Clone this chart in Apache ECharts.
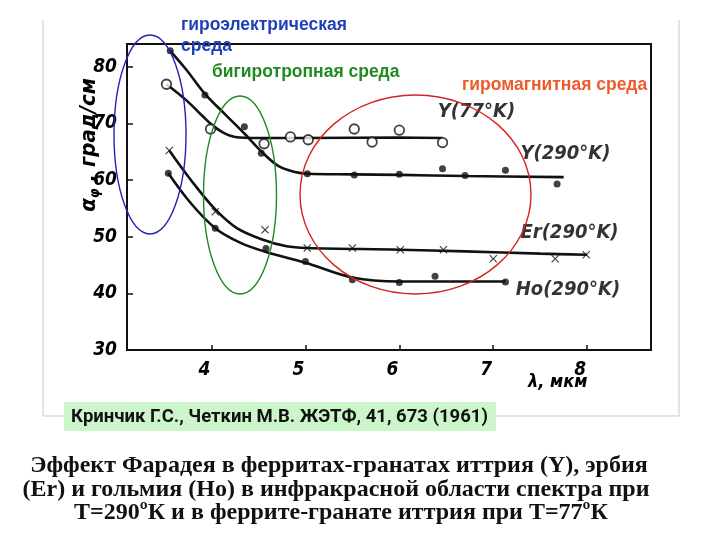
<!DOCTYPE html>
<html>
<head>
<meta charset="utf-8">
<script src="https://cdn.jsdelivr.net/npm/echarts@6/dist/echarts.min.js"></script>
<style>
html,body{margin:0;padding:0;background:#fff;}
#c{width:720px;height:540px;}
</style>
</head>
<body>
<div id="c"></div>
<script>
// ---- data ----
const xTickLabels = ['4', '5', '6', '7', '8'];
const yTickLabels = ['30', '40', '50', '60', '70', '80'];

const y290Points = [[3.56,82.8],[3.93,75.0],[4.35,69.4],[4.53,64.7],[5.02,61.1],[5.52,60.9],[6.0,61.0],[6.46,62.0],[6.70,60.8],[7.13,61.7],[7.68,59.3]];
const y290Curve  = [[3.56,82.8],[3.73,79.5],[3.93,75.2],[4.15,71.5],[4.35,68.2],[4.54,64.9],[4.71,62.5],[4.89,61.4],[5.02,61.1],[5.5,61.0],[6.0,60.9],[6.7,60.7],[7.75,60.5]];

const y77Points = [[3.52,76.9],[3.99,69.0],[4.56,66.4],[4.84,67.6],[5.03,67.1],[5.52,69.0],[5.71,66.7],[6.0,68.8],[6.46,66.6]];
const y77Curve  = [[3.52,76.9],[3.73,74.1],[3.91,71.2],[4.0,69.8],[4.12,68.4],[4.25,67.6],[4.5,67.4],[5.0,67.4],[6.0,67.5],[6.46,67.4]];

const erPoints = [[3.55,65.2],[4.04,54.4],[4.57,51.2],[5.02,48.0],[5.50,48.0],[6.01,47.7],[6.47,47.7],[7.0,46.1],[7.66,46.1],[7.99,46.8]];
const erCurve  = [[3.55,65.2],[3.78,60.0],[4.04,54.8],[4.27,51.5],[4.54,49.5],[4.80,48.3],[5.02,48.0],[6.0,47.7],[6.7,47.4],[7.5,47.0],[8.0,46.8]];

const hoPoints = [[3.54,61.2],[4.04,51.5],[4.58,47.9],[5.0,45.6],[5.5,42.4],[6.0,41.9],[6.38,43.0],[7.13,42.0]];
const hoCurve  = [[3.54,61.2],[3.78,55.9],[4.04,51.5],[4.31,48.9],[4.58,47.3],[5.0,45.4],[5.5,42.8],[6.0,42.1],[7.13,42.1]];

const curveLabelNames = ['Y(77°K)', 'Y(290°K)', 'Er(290°K)', 'Ho(290°K)'];
const curveLabelPos = [[6.41,72.1],[7.29,64.7],[7.29,50.6],[7.24,40.6]];

const mediumNames = ['гироэлектрическая\nсреда', 'бигиротропная среда', 'гиромагнитная среда'];
const citation = 'Кринчик Г.С., Четкин М.В. ЖЭТФ, 41, 673 (1961)';
const captionLines = [
  'Эффект Фарадея в ферритах-гранатах иттрия (Y), эрбия',
  '(Er) и гольмия (Ho) в инфракрасной области спектра при',
  'T=290ºК и в феррите-гранате иттрия при T=77ºК'
];

// ---- chart ----
const chart = echarts.init(document.getElementById('c'), null, {renderer: 'canvas'});
const handFont = '"DejaVu Sans Condensed", "DejaVu Sans", sans-serif';
const crossPath = 'path://M1,0 L5,4 L9,0 L10,1 L6,5 L10,9 L9,10 L5,6 L1,10 L0,9 L4,5 L0,1 Z';

function curveSeries(data) {
  return {type: 'line', data: data, smooth: 0.35, symbol: 'none',
    lineStyle: {color: '#111', width: 2.6}, z: 3, silent: true};
}

const option = {
  animation: false,
  backgroundColor: '#fff',
  grid: {left: 127, right: 69, top: 44, bottom: 190, show: true,
    borderColor: '#111', borderWidth: 2},
  xAxis: {
    type: 'value', min: 3.1, max: 8.68,
    axisLine: {lineStyle: {color: '#111', width: 2}},
    axisTick: {inside: true, length: 5, lineStyle: {color: '#111', width: 1.5}},
    splitLine: {show: false},
    axisLabel: {
      margin: 11, color: '#000', fontSize: 19, fontStyle: 'italic', fontWeight: 'bold', fontFamily: handFont,
      padding: [0, 14, 0, 0],
      showMinLabel: false, showMaxLabel: false,
      formatter: v => (Number.isInteger(v) && xTickLabels.includes(String(v))) ? String(v) : ''
    }
  },
  yAxis: {
    type: 'value', min: 30, max: 84, interval: 10,
    axisLine: {lineStyle: {color: '#111', width: 2}},
    axisTick: {inside: true, length: 6, lineStyle: {color: '#111', width: 1.5}},
    splitLine: {show: false},
    axisLabel: {
      margin: 10, color: '#000', fontSize: 19, fontStyle: 'italic', fontWeight: 'bold', fontFamily: handFont,
      showMaxLabel: false,
      formatter: v => yTickLabels.includes(String(v)) ? String(v) : ''
    }
  },
  series: [
    curveSeries(y290Curve),
    curveSeries(y77Curve),
    curveSeries(erCurve),
    curveSeries(hoCurve),
    {type: 'scatter', data: y290Points, symbol: 'circle', symbolSize: 7,
      itemStyle: {color: '#111'}, z: 4},
    {type: 'scatter', data: y77Points, symbol: 'circle', symbolSize: 9.5,
      itemStyle: {color: '#fff', borderColor: '#111', borderWidth: 1.8}, z: 4},
    {type: 'scatter', data: erPoints, symbol: crossPath, symbolSize: 8,
      itemStyle: {color: '#111'}, z: 4},
    {type: 'scatter', data: hoPoints, symbol: 'circle', symbolSize: 7,
      itemStyle: {color: '#111'}, z: 4},
    {type: 'scatter', symbolSize: 0, z: 5,
      data: curveLabelNames.map((n, i) => ({name: n, value: curveLabelPos[i]})),
      label: {show: true, position: 'right', distance: 0, formatter: '{b}',
        color: '#000', fontSize: 20, fontStyle: 'italic', fontWeight: 'bold', fontFamily: handFont}}
  ],
  graphic: [
    // light frame of the scanned picture
    {type: 'polyline', z: 1, silent: true,
      shape: {points: [[43, 20], [43, 416], [679, 416], [679, 20]]},
      style: {stroke: '#c8c8c8', lineWidth: 1, fill: null}},
    // axis names
    {type: 'text', x: 89, y: 145, rotation: Math.PI / 2, z: 10,
      style: {text: '{a|α}{s|φ}{a| , град/см}', align: 'center', verticalAlign: 'middle',
        fill: '#000',
        rich: {a: {fontSize: 22, fontStyle: 'italic', fontWeight: 'bold', fontFamily: handFont},
               s: {fontSize: 14, fontStyle: 'italic', fontWeight: 'bold', fontFamily: handFont, padding: [12, 0, 0, 0]}}}},
    {type: 'text', x: 528, y: 382, z: 10,
      style: {text: 'λ, мкм', fill: '#000', fontSize: 18, fontStyle: 'italic',
        fontWeight: 'bold', fontFamily: handFont, verticalAlign: 'middle'}},
    // ellipses marking the media
    {type: 'ellipse', z: 20, silent: true, shape: {cx: 150, cy: 134.5, rx: 36, ry: 99.5},
      style: {fill: null, stroke: '#2222b8', lineWidth: 1.4}},
    {type: 'ellipse', z: 20, silent: true, shape: {cx: 240, cy: 195, rx: 36.5, ry: 99},
      style: {fill: null, stroke: '#1f8a1f', lineWidth: 1.4}},
    {type: 'ellipse', z: 20, silent: true, shape: {cx: 415.5, cy: 194.5, rx: 115.5, ry: 99.5},
      style: {fill: null, stroke: '#d62222', lineWidth: 1.4}},
    // medium names
    {type: 'text', x: 181, y: 15, z: 30,
      style: {text: mediumNames[0], fill: '#1f3fb8', fontSize: 17.5, fontWeight: 'bold',
        fontFamily: 'Liberation Sans, Arial, sans-serif', lineHeight: 21}},
    {type: 'text', x: 212, y: 63, z: 30,
      style: {text: mediumNames[1], fill: '#1f8a1f', fontSize: 17.5, fontWeight: 'bold',
        fontFamily: 'Liberation Sans, Arial, sans-serif'}},
    {type: 'text', x: 462, y: 76, z: 30,
      style: {text: mediumNames[2], fill: '#ee5a2a', fontSize: 17.5, fontWeight: 'bold',
        fontFamily: 'Liberation Sans, Arial, sans-serif'}},
    // citation box
    {type: 'rect', z: 30, shape: {x: 64, y: 402, width: 432, height: 29},
      style: {fill: '#ccf5cc'}},
    {type: 'text', x: 71, y: 417, z: 31,
      style: {text: citation, fill: '#111', fontSize: 18.5, fontWeight: 'bold',
        fontFamily: 'Roboto, "Liberation Sans", sans-serif',
        verticalAlign: 'middle'}},
    // caption
    {type: 'text', x: 339, y: 466, z: 30,
      style: {text: captionLines[0], fill: '#111', fontSize: 24, fontWeight: 'bold',
        fontFamily: '"Liberation Serif", "Times New Roman", serif', align: 'center', verticalAlign: 'middle'}},
    {type: 'text', x: 336, y: 490, z: 30,
      style: {text: captionLines[1], fill: '#111', fontSize: 24, fontWeight: 'bold',
        fontFamily: '"Liberation Serif", "Times New Roman", serif', align: 'center', verticalAlign: 'middle'}},
    {type: 'text', x: 341, y: 513, z: 30,
      style: {text: captionLines[2], fill: '#111', fontSize: 24, fontWeight: 'bold',
        fontFamily: '"Liberation Serif", "Times New Roman", serif', align: 'center', verticalAlign: 'middle'}}
  ]
};
chart.setOption(option);
</script>
</body>
</html>
